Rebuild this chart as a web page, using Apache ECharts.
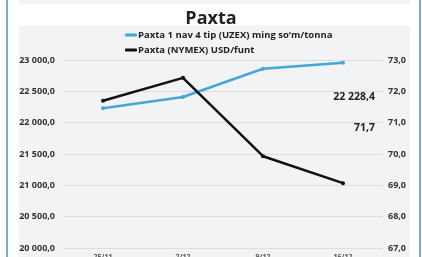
<!DOCTYPE html>
<html>
<head>
<meta charset="utf-8">
<script src="https://cdn.jsdelivr.net/npm/echarts@6/dist/echarts.min.js"></script>
<style>
  html, body { margin: 0; padding: 0; background: #fff; }
  #chart { width: 422px; height: 257px; }
</style>
</head>
<body>
<div id="chart"></div>
<script>
const dates = ['25/11', '2/12', '9/12', '16/12'];
const uzex = [22228.4, 22410, 22860, 22955];
const nymex = [71.7, 72.43, 69.93, 69.07];
const seriesNames = ['Paxta 1 nav 4 tip (UZEX) ming so\u2018m/tonna', 'Paxta (NYMEX) USD/funt'];
const lastLabels = ['22 228,4', '71,7'];

function fmt(v) {
  let s = v.toFixed(1).replace('.', ',');
  let parts = s.split(',');
  parts[0] = parts[0].replace(/\B(?=(\d{3})+(?!\d))/g, ' ');
  return parts.join(',');
}

var chartDom = document.getElementById('chart');
var myChart = echarts.init(chartDom);
var option;

const font = 'Open Sans';

option = {
  backgroundColor: '#fff',
  animation: false,
  graphic: [
    // previous chart strip at top
    { type: 'rect', shape: { x: 19, y: 0, width: 391, height: 4 }, style: { fill: '#f2f3f5' }, z: -10 },
    { type: 'rect', shape: { x: 19, y: 26, width: 391, height: 240 }, style: { fill: '#f2f3f5' }, z: -10 },
    { type: 'line', shape: { x1: 7, y1: 0, x2: 7, y2: 257 }, style: { stroke: '#4a8fd6', lineWidth: 1.5 } },
    { type: 'line', shape: { x1: 420, y1: 0, x2: 420, y2: 257 }, style: { stroke: '#4a8fd6', lineWidth: 1.5 } },
    { type: 'text', left: 90, top: -6, style: { text: '25/11', font: 'bold 7px "Open Sans"', fill: '#555' } },
    { type: 'text', left: 176, top: -6, style: { text: '2/12', font: 'bold 7px "Open Sans"', fill: '#555' } },
    { type: 'text', left: 258, top: -6, style: { text: '9/12', font: 'bold 7px "Open Sans"', fill: '#555' } },
    { type: 'text', left: 339, top: -6, style: { text: '16/12', font: 'bold 7px "Open Sans"', fill: '#555' } },
    { type: 'text', right: 47, top: 92, style: { text: lastLabels[0], font: 'bold 10.5px "Open Sans"', fill: '#222' } },
    { type: 'text', right: 47, top: 123, style: { text: lastLabels[1], font: 'bold 10.5px "Open Sans"', fill: '#222' } }
  ],
  title: {
    text: 'Paxta',
    left: 'center',
    top: 5,
    textStyle: { fontFamily: font, fontSize: 18, fontWeight: 'bold', color: '#222' }
  },
  legend: {
    orient: 'vertical',
    left: 120,
    top: 25,
    itemGap: 5,
    itemWidth: 12,
    itemHeight: 3,
    icon: 'roundRect',
    textStyle: { fontFamily: font, fontSize: 9.5, fontWeight: 'bold', color: '#222', padding: [0, 0, 0, -4] },
    data: seriesNames
  },
  grid: { left: 63, right: 39, top: 60, bottom: 9, outerBoundsMode: 'none', containLabel: false },
  xAxis: {
    type: 'category',
    data: dates,
    axisLine: { show: false },
    axisTick: { show: false },
    axisLabel: { fontFamily: font, fontSize: 7, fontWeight: 'bold', color: '#555', margin: 5 }
  },
  yAxis: [
    {
      type: 'value',
      min: 20000,
      max: 23000,
      interval: 500,
      axisLine: { show: false },
      axisTick: { show: false },
      splitLine: { lineStyle: { color: '#dcdde0', width: 1 } },
      axisLabel: { fontFamily: font, fontSize: 9, fontWeight: 'bold', color: '#333', margin: 8, formatter: fmt }
    },
    {
      type: 'value',
      min: 67,
      max: 73,
      interval: 1,
      axisLine: { show: false },
      axisTick: { show: false },
      splitLine: { show: false },
      axisLabel: { fontFamily: font, fontSize: 9, fontWeight: 'bold', color: '#333', margin: 5, formatter: fmt }
    }
  ],
  series: [
    {
      name: seriesNames[0],
      type: 'line',
      data: uzex,
      yAxisIndex: 0,
      symbol: 'circle',
      symbolSize: 4,
      lineStyle: { color: '#45a6da', width: 2.5 },
      itemStyle: { color: '#45a6da' }
    },
    {
      name: seriesNames[1],
      type: 'line',
      data: nymex,
      yAxisIndex: 1,
      symbol: 'circle',
      symbolSize: 4,
      lineStyle: { color: '#111', width: 2.5 },
      itemStyle: { color: '#111' }
    }
  ]
};

option && myChart.setOption(option);
</script>
</body>
</html>
